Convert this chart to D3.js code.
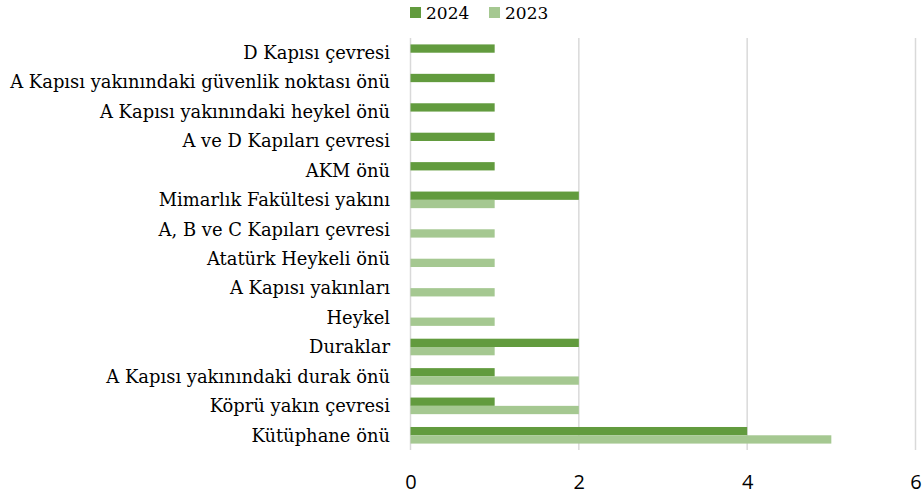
<!DOCTYPE html>
<html>
<head>
<meta charset="utf-8">
<script src="https://cdn.jsdelivr.net/npm/d3@7"></script>
<style>
body{margin:0;background:#fff;}
svg{display:block;}
</style>
</head>
<body>
<svg id="chart" width="922" height="499"></svg>
<script>
const categories = [
  "D Kapısı çevresi",
  "A Kapısı yakınındaki güvenlik noktası önü",
  "A Kapısı yakınındaki heykel önü",
  "A ve D Kapıları çevresi",
  "AKM önü",
  "Mimarlık Fakültesi yakını",
  "A, B ve C Kapıları çevresi",
  "Atatürk Heykeli önü",
  "A Kapısı yakınları ",
  "Heykel",
  "Duraklar",
  "A Kapısı yakınındaki durak önü",
  "Köprü yakın çevresi",
  "Kütüphane önü"
];
const seriesNames = ["2024", "2023"];
const values2024 = [1, 1, 1, 1, 1, 2, 0, 0, 0, 0, 2, 1, 1, 4];
const values2023 = [0, 0, 0, 0, 0, 1, 1, 1, 1, 1, 1, 2, 2, 5];
const xTicks = [0, 2, 4, 6];
const colors = ["#629B3E", "#A5C891"];

const svg = d3.select("#chart");
const mLeft = 410.5, mRight = 915.5, mTop = 38, mBottom = 450;

const x = d3.scaleLinear().domain([0, 6]).range([mLeft, mRight]);
const y = d3.scaleBand().domain(categories).range([mTop, mBottom]).paddingInner(0.436).paddingOuter(0.218);
const ys = d3.scaleBand().domain(seriesNames).range([0, y.bandwidth()]);

// gridlines
svg.append("g").selectAll("line").data(xTicks).join("line")
  .attr("x1", d => x(d)).attr("x2", d => x(d))
  .attr("y1", mTop).attr("y2", mBottom)
  .attr("stroke", "#d9d9d9").attr("stroke-width", 1.5);

const data = [values2024, values2023];
seriesNames.forEach((s, si) => {
  svg.append("g").selectAll("rect").data(categories).join("rect")
    .attr("x", x(0))
    .attr("y", c => y(c) + ys(s))
    .attr("width", (c, i) => x(data[si][i]) - x(0))
    .attr("height", ys.bandwidth())
    .attr("fill", colors[si]);
});

// category labels
const labels = svg.append("g").selectAll("text").data(categories).join("text")
  .attr("x", 390)
  .attr("y", c => y(c) + y.bandwidth() / 2)
  .attr("dy", "0.35em")
  .attr("text-anchor", "end")
  .attr("font-family", "'DejaVu Serif', serif")
  .attr("font-size", 16)
  .attr("fill", "#000")
  .text(c => c);
let maxW = 0;
labels.each(function(){ maxW = Math.max(maxW, this.getComputedTextLength()); });
const fs = 16 * 380 / maxW;
labels.attr("font-size", fs);

// x axis
const xAxis = d3.axisBottom(x).tickValues(xTicks).tickFormat(d3.format("d")).tickSize(0).tickPadding(0);
const gx = svg.append("g").attr("transform", `translate(0,${mBottom})`).call(xAxis);
gx.select(".domain").remove();
gx.selectAll("text")
  .attr("y", 32)
  .attr("dy", "0.35em")
  .attr("font-family", "'Open Sans', sans-serif")
  .attr("font-size", 20)
  .attr("fill", "#000");

// legend
const legendX = [410, 489];
const lg = svg.append("g");
seriesNames.forEach((s, i) => {
  lg.append("rect").attr("x", legendX[i]).attr("y", 7).attr("width", 11).attr("height", 11).attr("fill", colors[i]);
  lg.append("text").attr("x", legendX[i] + 16).attr("y", 13).attr("dy", "0.35em")
    .attr("font-family", "'DejaVu Serif', serif").attr("font-size", 17).attr("fill", "#000").text(s);
});
</script>
</body>
</html>
